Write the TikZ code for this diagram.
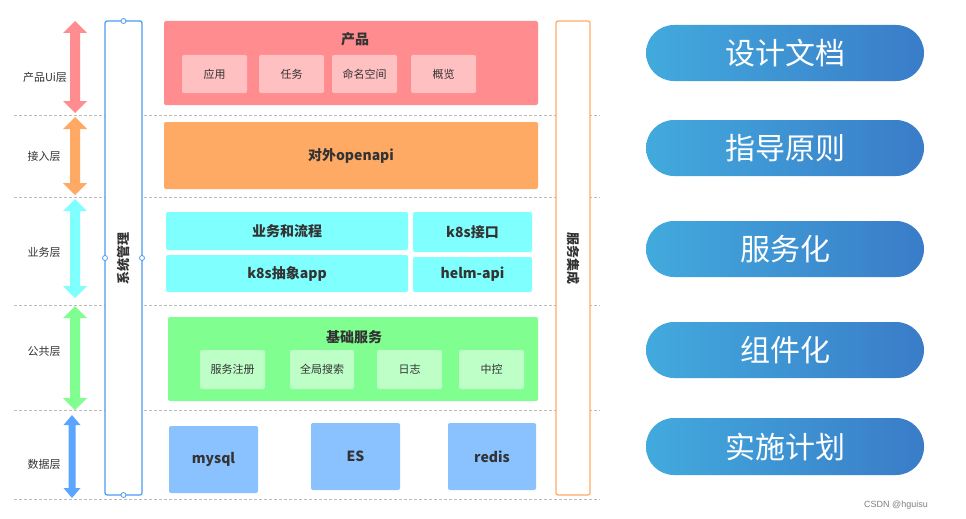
\documentclass[tikz,border=0pt]{standalone}
\usepackage{fontspec}
\setmainfont{Noto Sans CJK SC}
\newfontfamily\cjk{Noto Sans CJK SC}
\usetikzlibrary{calc}
\definecolor{txt}{HTML}{333333}
\definecolor{pinkA}{HTML}{FF8C8E}
\definecolor{pinkB}{HTML}{FFC0C2}
\definecolor{orangeA}{HTML}{FFAA64}
\definecolor{cyanA}{HTML}{80FFFF}
\definecolor{greenA}{HTML}{80FF90}
\definecolor{greenB}{HTML}{BEFFC8}
\definecolor{blueA}{HTML}{8AC2FF}
\definecolor{blueArrow}{HTML}{5AA5FF}
\definecolor{sysblue}{HTML}{4A9BF5}
\definecolor{dashgray}{HTML}{BBBBBB}
\definecolor{pillL}{HTML}{42AADD}
\definecolor{pillR}{HTML}{3A7CC8}
\newcommand\bx[7]{\node[#6, minimum width={(#4-#2)*1pt}, minimum height={(#5-#3)*1pt}] (#1) at ({(#2+#4)/2},{(#3+#5)/2}) {#7};}
\newcommand\dblarr[7]{%
  \fill[#7] (#1,#2) -- (#1+#4,#2+#6) -- (#1+#5,#2+#6) -- (#1+#5,#3-#6) -- (#1+#4,#3-#6) -- (#1,#3)
   -- (#1-#4,#3-#6) -- (#1-#5,#3-#6) -- (#1-#5,#2+#6) -- (#1-#4,#2+#6) -- cycle;}
\tikzset{
  base/.style={inner sep=0pt, outer sep=0pt, text=txt, font=\cjk},
  layer/.style={base, rounded corners=2pt, font=\cjk\bfseries\fontsize{14}{16}\selectfont},
  sub/.style={base, rounded corners=2pt, font=\cjk\fontsize{11}{13}\selectfont},
  lbl/.style={base, font=\cjk\fontsize{11}{13}\selectfont},
  dline/.style={dashgray, line width=0.8pt, dash pattern=on 3pt off 2pt},
  sidebox/.style={base, draw, line width=1.2pt, fill=white, rounded corners=2pt},
  pin/.style={circle, draw=sysblue, fill=white, line width=0.8pt, inner sep=0pt, minimum size=5pt},
  pill/.style={base, rounded corners=28pt, left color=pillL, right color=pillR, text=white, font=\cjk\fontsize{30}{34}\selectfont},
}
\begin{document}
\begin{tikzpicture}[x=1pt,y=-1pt]
\useasboundingbox (0,0) rectangle (966,519);
\fill[white] (0,0) rectangle (966,519);
% dashed layer separators
\foreach \yy in {115,197,305,410,499} \draw[dline] (14,\yy) -- (600,\yy);
% left arrows
\dblarr{75}{21}{113}{12}{5}{12}{pinkA}
\dblarr{75}{117}{195}{12}{5}{12}{orangeA}
\dblarr{75}{199}{298}{12}{5}{12}{cyanA}
\dblarr{75}{306}{410}{12}{5}{12}{greenA}
\dblarr{72}{415}{498}{8.5}{3.5}{10}{blueArrow}
% left labels
\node[lbl] (l1) at (45,77) {产品Ui层};
\node[lbl] (l2) at (44,156) {接入层};
\node[lbl] (l3) at (44,252) {业务层};
\node[lbl] (l4) at (44,351) {公共层};
\node[lbl] (l5) at (44,464) {数据层};
% system management box
\bx{sys}{105}{21}{142}{495}{sidebox, draw=sysblue}{}
\node[base, rotate=90, font=\cjk\bfseries\fontsize{13}{15}\selectfont] (syst) at (sys.center) {系统管理};
\node[pin] (p1) at (sys.north) {};
\node[pin] (p2) at (sys.south) {};
\node[pin] (p3) at (sys.west) {};
\node[pin] (p4) at (sys.east) {};
% service integration box
\bx{svc}{556}{21}{590}{495}{sidebox, draw=orangeA}{}
\node[base, rotate=-90, font=\cjk\bfseries\fontsize{13}{15}\selectfont] (svct) at (svc.center) {服务集成};
% product layer
\bx{prod}{164}{21}{538}{105}{layer, fill=pinkA}{}
\node[base, font=\cjk\bfseries\fontsize{14}{16}\selectfont] (prodt) at (355,39) {产品};
\bx{pa}{182}{55}{247}{93}{sub, fill=pinkB}{应用}
\bx{pb}{259}{55}{324}{93}{sub, fill=pinkB}{任务}
\bx{pc}{332}{55}{397}{93}{sub, fill=pinkB}{命名空间}
\bx{pd}{411}{55}{476}{93}{sub, fill=pinkB}{概览}
% access layer
\bx{api}{164}{122}{538}{189}{layer, fill=orangeA}{对外openapi}
% business layer
\bx{b1}{166}{212}{408}{250}{layer, fill=cyanA}{业务和流程}
\bx{b2}{166}{255}{408}{292}{layer, fill=cyanA}{k8s抽象app}
\bx{b3}{413}{212}{532}{252}{layer, fill=cyanA}{k8s接口}
\bx{b4}{413}{257}{532}{292}{layer, fill=cyanA}{helm-api}
% common layer
\bx{base}{168}{317}{538}{401}{layer, fill=greenA}{}
\node[base, font=\cjk\bfseries\fontsize{14}{16}\selectfont] (baset) at (354,337) {基础服务};
\bx{g1}{200}{350}{265}{389}{sub, fill=greenB}{服务注册}
\bx{g2}{290}{350}{354}{389}{sub, fill=greenB}{全局搜索}
\bx{g3}{377}{350}{442}{389}{sub, fill=greenB}{日志}
\bx{g4}{459}{350}{524}{389}{sub, fill=greenB}{中控}
% data layer
\bx{d1}{169}{426}{258}{493}{layer, fill=blueA}{mysql}
\bx{d2}{311}{423}{400}{490}{layer, fill=blueA}{ES}
\bx{d3}{448}{423}{536}{490}{layer, fill=blueA}{redis}
% right pills
\bx{r1}{646}{25}{924}{81}{pill}{设计文档}
\bx{r2}{646}{120}{924}{176}{pill}{指导原则}
\bx{r3}{646}{221}{924}{277}{pill}{服务化}
\bx{r4}{646}{322}{924}{378}{pill}{组件化}
\bx{r5}{646}{418}{924}{475}{pill}{实施计划}
% watermark
\node[base, text=gray, font=\fontspec{Liberation Sans}\fontsize{9}{11}\selectfont] (wm) at (896,505) {CSDN @hguisu};
\end{tikzpicture}
\end{document}
